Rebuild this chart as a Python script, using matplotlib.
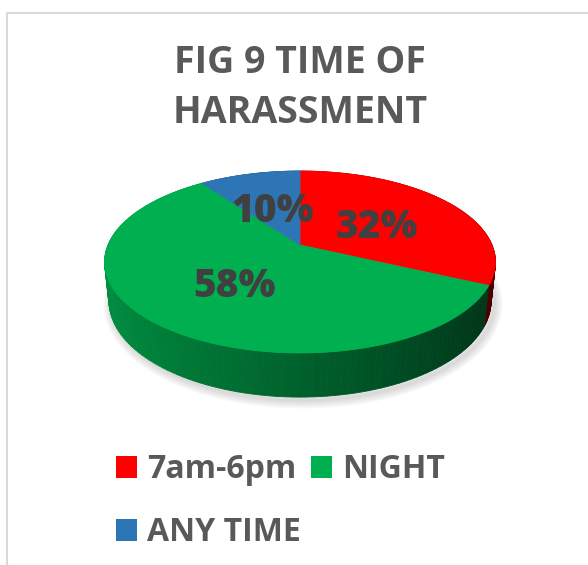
import numpy as np
import matplotlib.pyplot as plt
from matplotlib.patches import Polygon, Patch
from matplotlib.colors import to_rgb

# data
shares = [32, 58, 10]
names = ['7am-6pm', 'NIGHT', 'ANY TIME']
pct_labels = ['32%', '58%', '10%']
colors = ['#FF0000', '#00B050', '#2E75B6']

FONT = 'Open Sans'
TXT = '#595959'

# 3d view of the pie, in pixel units
CX, CY, S = 300, 245, 192
ELEV = np.radians(27.2)
DIST = 4.76
THICK = 0.23


def project(theta, r=1.0, z=0.0):
    X = r * np.cos(theta)
    Y = r * np.sin(theta)
    yv = Y * np.sin(ELEV) + z * np.cos(ELEV)
    d = DIST + Y * np.cos(ELEV) - z * np.sin(ELEV)
    return CX + S * X * DIST / d, CY - S * yv * DIST / d


fig = plt.figure(figsize=(5.88, 5.65), dpi=100)
ax = fig.add_axes([0, 0, 1, 1])
ax.set_xlim(0, 588)
ax.set_ylim(565, 0)
ax.axis('off')

# chart frame
ax.plot([6.5, 6.5], [565, 12.5], color='#D9D9D9', lw=1.5)
ax.plot([6.5, 588], [12.5, 12.5], color='#D9D9D9', lw=1.5)

total = float(sum(shares))
bounds = 90 - 360 * np.concatenate([[0], np.cumsum(shares)]) / total

# soft shadow under the pie
t = np.radians(np.linspace(0, 360, 200))
bx, by = project(t, z=-THICK)
for k in range(6):
    ax.add_patch(Polygon(np.c_[bx + 3, by + 3], closed=True, fill=False,
                         edgecolor='gray', alpha=0.05, lw=2 + 2 * k, zorder=1))

# side wall, drawn back to front
quads = []
for i, c in enumerate(colors):
    th = np.radians(np.linspace(bounds[i], bounds[i + 1], 120))
    for a0, a1 in zip(th[:-1], th[1:]):
        mid = 0.5 * (a0 + a1)
        x0, y0 = project(a0)
        x1, y1 = project(a1)
        x2, y2 = project(a1, z=-THICK)
        x3, y3 = project(a0, z=-THICK)
        shade = 0.55 - 0.27 * np.cos(mid)
        fc = tuple(np.array(to_rgb(c)) * shade)
        quads.append((np.sin(mid), [(x0, y0), (x1, y1), (x2, y2), (x3, y3)], fc))
quads.sort(key=lambda q: -q[0])
for _, pts, fc in quads:
    ax.add_patch(Polygon(pts, closed=True, facecolor=fc, edgecolor=fc,
                         lw=0.6, zorder=2))

# top face
apex = project(0.0, r=0.0)
for i, c in enumerate(colors):
    th = np.radians(np.linspace(bounds[i], bounds[i + 1], 200))
    ex, ey = project(th)
    pts = np.vstack([[apex], np.c_[ex, ey]])
    ax.add_patch(Polygon(pts, closed=True, facecolor=c, edgecolor=c,
                         lw=0.6, zorder=3))

# percentage labels
for i, lab in enumerate(pct_labels):
    mid = np.radians(0.5 * (bounds[i] + bounds[i + 1]))
    lx, ly = project(mid, r=0.5)
    ax.text(lx, ly + 5, lab, ha='center', va='center', fontsize=28,
            fontfamily=FONT, fontweight='heavy', color='#404040', zorder=5)

# title
ax.text(300, 73, 'FIG 9 TIME OF', ha='center', va='baseline', fontsize=27,
        fontfamily=FONT, fontweight='bold', color=TXT)
ax.text(300, 123, 'HARASSMENT', ha='center', va='baseline', fontsize=27,
        fontfamily=FONT, fontweight='bold', color=TXT)

# legend, row-wise: red, green / blue
order = [0, 2, 1]
handles = [Patch(facecolor=colors[k], label=names[k]) for k in order]
fpx = 23 * 100 / 72
ax.legend(handles=handles, ncol=2, loc='upper left', bbox_to_anchor=(116, 453),
          bbox_transform=ax.transData, frameon=False,
          prop=dict(family=FONT, weight='bold', size=23), labelcolor=TXT,
          handlelength=21 / fpx, handleheight=21 / fpx, handletextpad=10 / fpx,
          columnspacing=10 / fpx, labelspacing=0.94, borderpad=0, borderaxespad=0)

fig.savefig('out.png', dpi=100)
